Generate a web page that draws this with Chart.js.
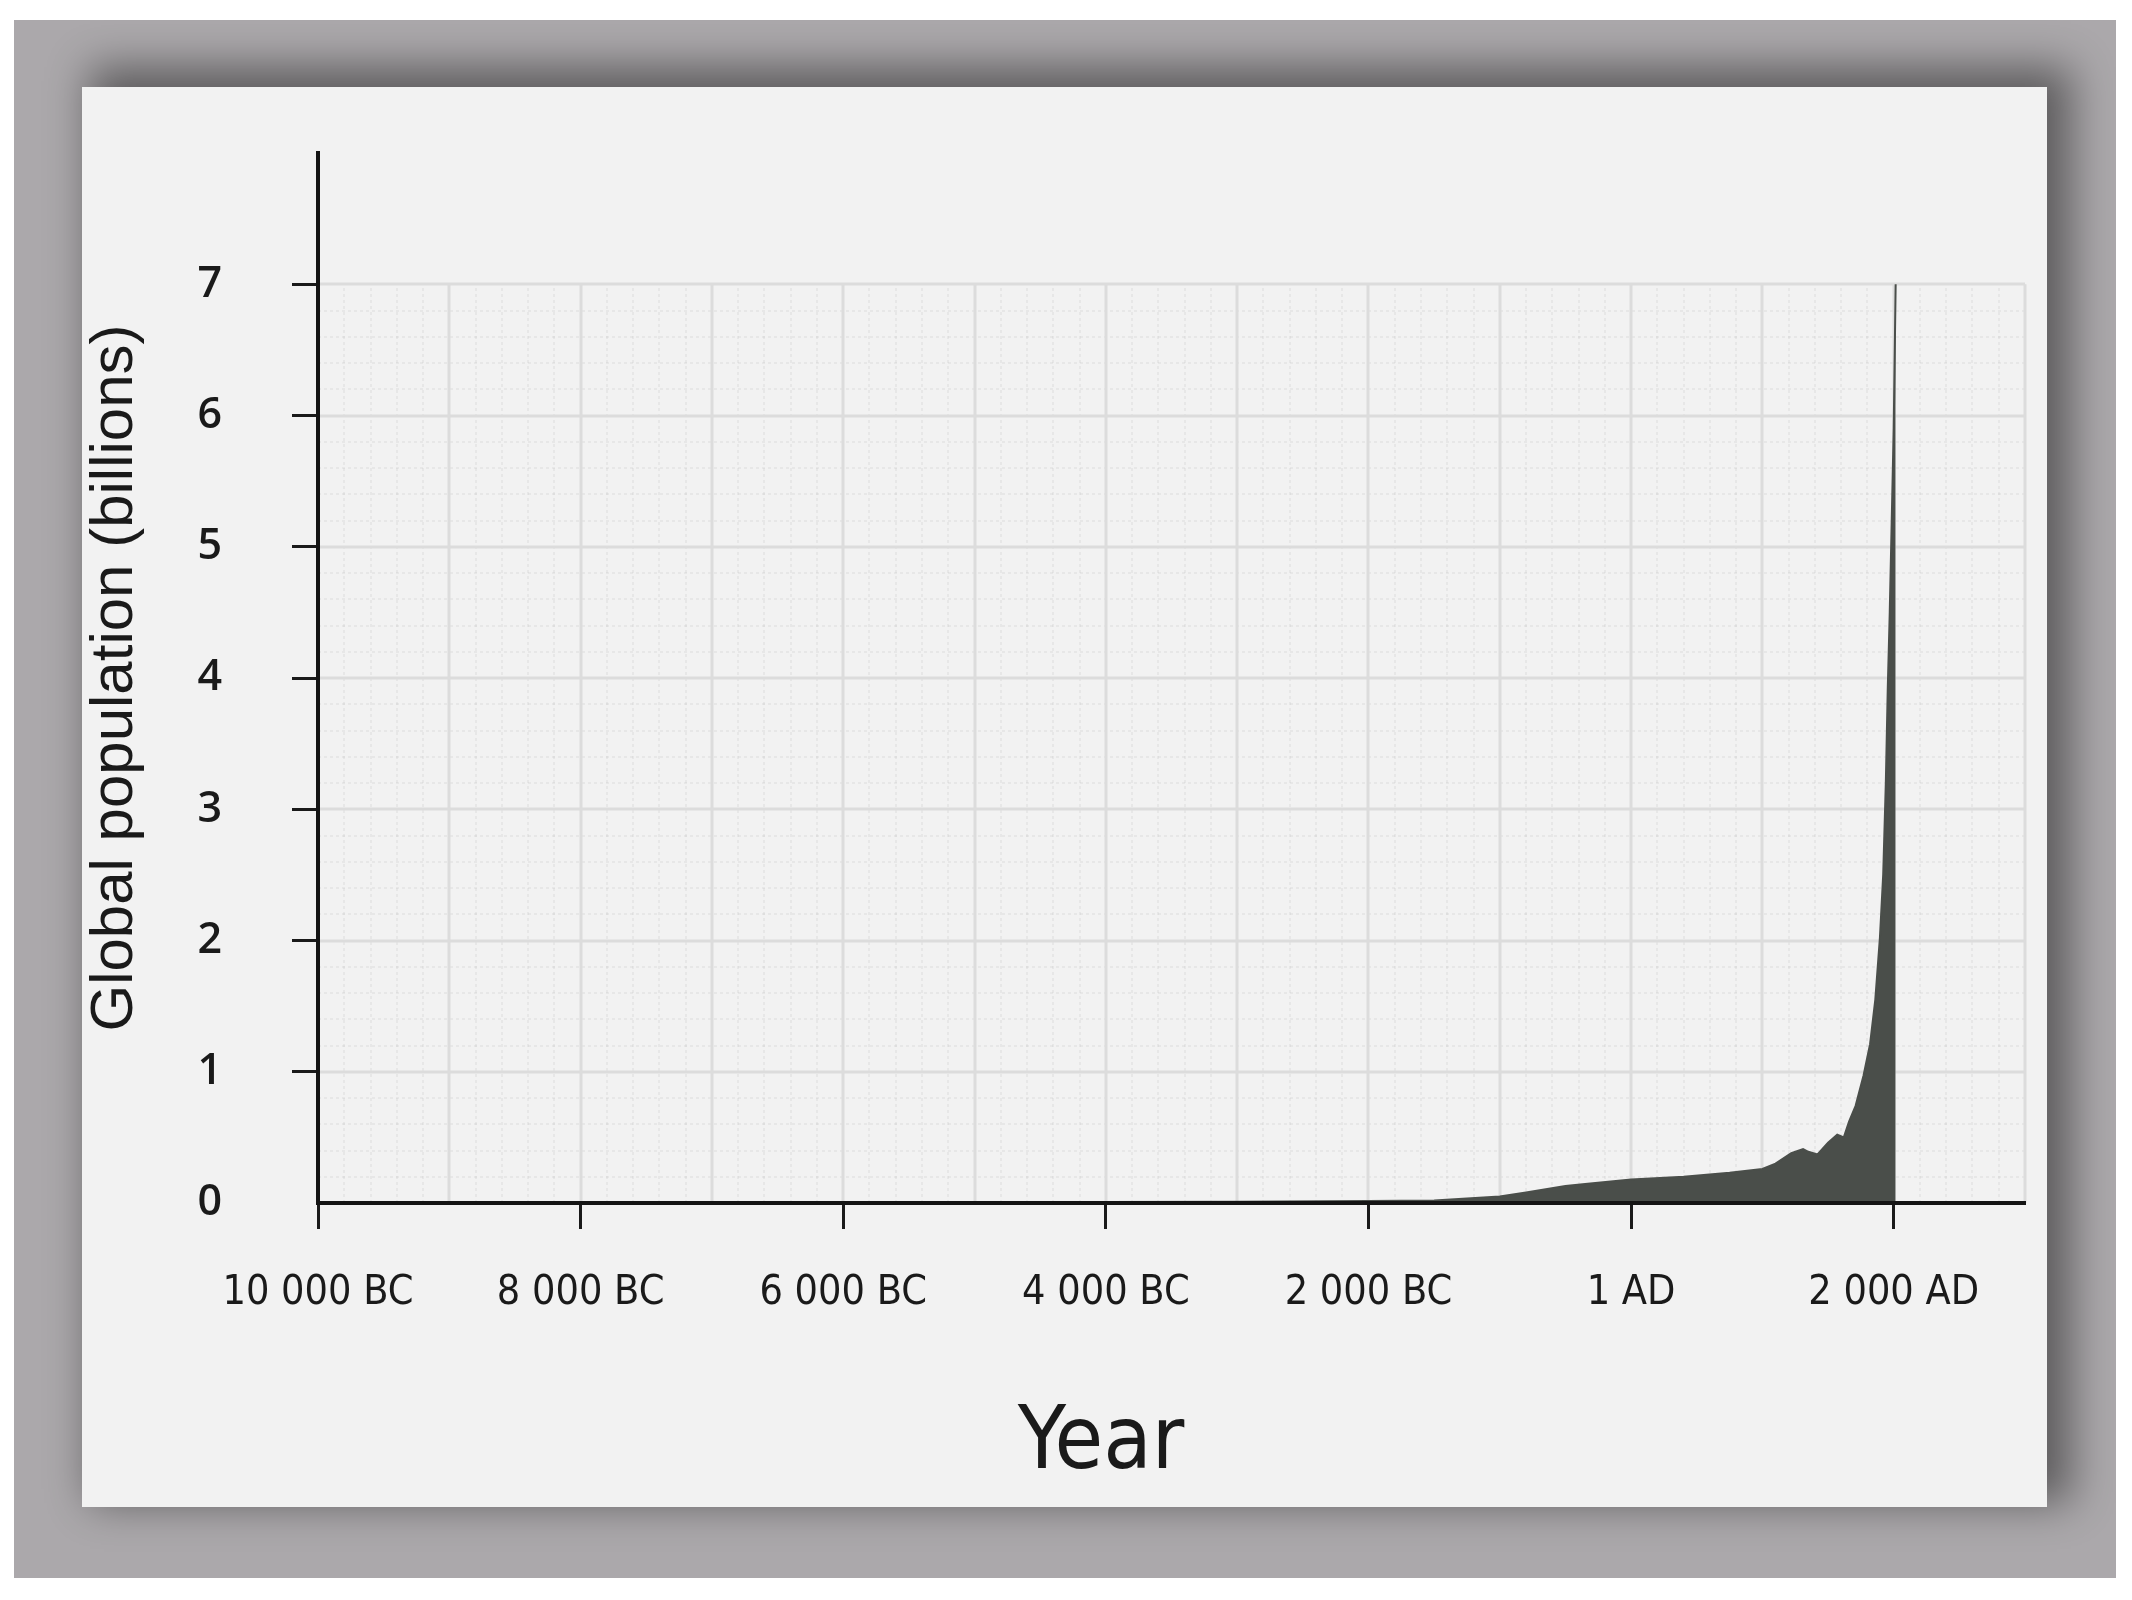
<!DOCTYPE html>
<html>
<head>
<meta charset="utf-8">
<script src="https://cdn.jsdelivr.net/npm/chart.js@4.4.1/dist/chart.umd.min.js"></script>
<style>
  html, body { margin:0; padding:0; background:#ffffff; width:2132px; height:1600px; overflow:hidden; }
  #frame { position:absolute; left:14px; top:20px; width:2102px; height:1558px; background:#aba8ab; overflow:hidden; }
  #card { position:absolute; left:68px; top:67px; width:1965px; height:1420px; background:#f2f2f2;
          box-shadow: 16px -12px 40px 8px rgba(0,0,0,0.45); }
  #c { position:absolute; left:0; top:0; }
  #xtitle { position:absolute; left:801px; top:1394px; width:600px; text-align:center;
            font-family:'Liberation Sans Narrow','DejaVu Sans Condensed','Liberation Sans',sans-serif;
            font-size:88px; line-height:1; color:#1a1a1a; }
</style>
</head>
<body>
<div id="frame"><div id="card"></div></div>
<canvas id="c" width="2132" height="1600"></canvas>
<div id="xtitle">Year</div>
<script>
// ---- data ----
const years = [-10000, -8000, -6000, -4000, -3000, -2000, -1500, -1000, -800, -500, -350, 1,
               400, 750, 1000, 1100, 1220, 1310, 1350, 1420, 1500, 1570, 1620, 1660, 1710,
               1770, 1820, 1860, 1895, 1920, 1940, 1955, 1970, 1985, 2000, 2015];
const population = [0.004, 0.005, 0.005, 0.007, 0.01, 0.015, 0.02, 0.05, 0.08, 0.13, 0.145, 0.18,
               0.2, 0.23, 0.26, 0.3, 0.38, 0.41, 0.39, 0.37, 0.46, 0.52, 0.5, 0.62, 0.74,
               0.97, 1.21, 1.55, 2.02, 2.5, 3.2, 3.93, 4.5, 5.2, 5.9, 7.0];
const xTickValues = [-10000, -8000, -6000, -4000, -2000, 0, 2000];
const xTickLabels = ['10 000 BC', '8 000 BC', '6 000 BC', '4 000 BC', '2 000 BC', '1 AD', '2 000 AD'];
const yTickValues = [0, 1, 2, 3, 4, 5, 6, 7];
const yTickLabels = ['0', '1', '2', '3', '4', '5', '6', '7'];
const xRange = [-10000, 3000];
const yRange = [0, 8];
const gridTop = 7;

const narrow = "'Liberation Sans Narrow','DejaVu Sans Condensed','Liberation Sans',sans-serif";

const paperGrid = {
  id: 'paperGrid',
  beforeDraw(chart) {
    const {ctx, scales: {x, y}} = chart;
    const xl = x.getPixelForValue(xRange[0]), xr = x.getPixelForValue(xRange[1]);
    const yb = y.getPixelForValue(0), yt = y.getPixelForValue(gridTop);
    ctx.save();
    // minor lines
    ctx.strokeStyle = 'rgba(0,0,0,0.045)';
    ctx.lineWidth = 2;
    ctx.setLineDash([3, 3]);
    for (let v = xRange[0]; v <= xRange[1]; v += 200) {
      const px = Math.round(x.getPixelForValue(v));
      ctx.beginPath(); ctx.moveTo(px, yb); ctx.lineTo(px, yt); ctx.stroke();
    }
    for (let i = 0; i <= gridTop * 5; i++) {
      const py = Math.round(y.getPixelForValue(i / 5));
      ctx.beginPath(); ctx.moveTo(xl, py); ctx.lineTo(xr, py); ctx.stroke();
    }
    ctx.setLineDash([]);
    // major lines
    ctx.strokeStyle = '#dcdcdc';
    ctx.lineWidth = 3;
    for (let v = xRange[0]; v <= xRange[1]; v += 1000) {
      const px = Math.round(x.getPixelForValue(v));
      ctx.beginPath(); ctx.moveTo(px, yb); ctx.lineTo(px, yt); ctx.stroke();
    }
    for (let v = 0; v <= gridTop; v += 1) {
      const py = Math.round(y.getPixelForValue(v));
      ctx.beginPath(); ctx.moveTo(xl, py); ctx.lineTo(xr, py); ctx.stroke();
    }
    ctx.restore();
  }
};

new Chart(document.getElementById('c'), {
  type: 'line',
  data: {
    datasets: [{
      data: years.map((yr, i) => ({x: yr, y: population[i]})),
      fill: 'origin',
      backgroundColor: '#4a4e4a',
      borderColor: '#4a4e4a',
      borderWidth: 2,
      pointRadius: 0,
      tension: 0
    }]
  },
  options: {
    responsive: false,
    animation: false,
    layout: { padding: { left: 0, top: 153, right: 107, bottom: 0 } },
    plugins: { legend: { display: false }, tooltip: { enabled: false } },
    scales: {
      x: {
        type: 'linear',
        min: xRange[0], max: xRange[1],
        afterBuildTicks: s => { s.ticks = xTickValues.map(v => ({value: v})); },
        afterFit: s => { s.height = 397; },
        grid: { drawOnChartArea: false, drawTicks: true, tickLength: 26, tickWidth: 3, tickColor: '#1a1a1a' },
        border: { display: true, color: '#141414', width: 4, z: 1 },
        ticks: {
          padding: 40, maxRotation: 0, autoSkip: false,
          color: '#1a1a1a',
          font: { family: narrow, size: 41 },
          callback: (v) => xTickLabels[xTickValues.indexOf(v)]
        }
      },
      y: {
        type: 'linear',
        min: yRange[0], max: yRange[1],
        afterBuildTicks: s => { s.ticks = yTickValues.map(v => ({value: v})); },
        afterFit: s => { s.width = 318; },
        grid: { drawOnChartArea: false, drawTicks: true, tickLength: 26, tickWidth: 3,
                tickColor: ctx => (ctx.tick && ctx.tick.value === 0) ? 'rgba(0,0,0,0)' : '#1a1a1a' },
        border: { display: true, color: '#141414', width: 4, z: 1 },
        ticks: {
          padding: 70,
          color: '#1a1a1a',
          font: { family: "'Open Sans','DejaVu Sans',sans-serif", size: 43, weight: '600' },
          callback: (v) => yTickLabels[yTickValues.indexOf(v)]
        },
        title: {
          display: true,
          text: 'Global population (billions)',
          color: '#1a1a1a',
          font: { family: "'Liberation Sans',Arial,sans-serif", size: 60 },
          padding: { top: 79, bottom: 0 }
        }
      }
    }
  },
  plugins: [paperGrid]
});
</script>
</body>
</html>
